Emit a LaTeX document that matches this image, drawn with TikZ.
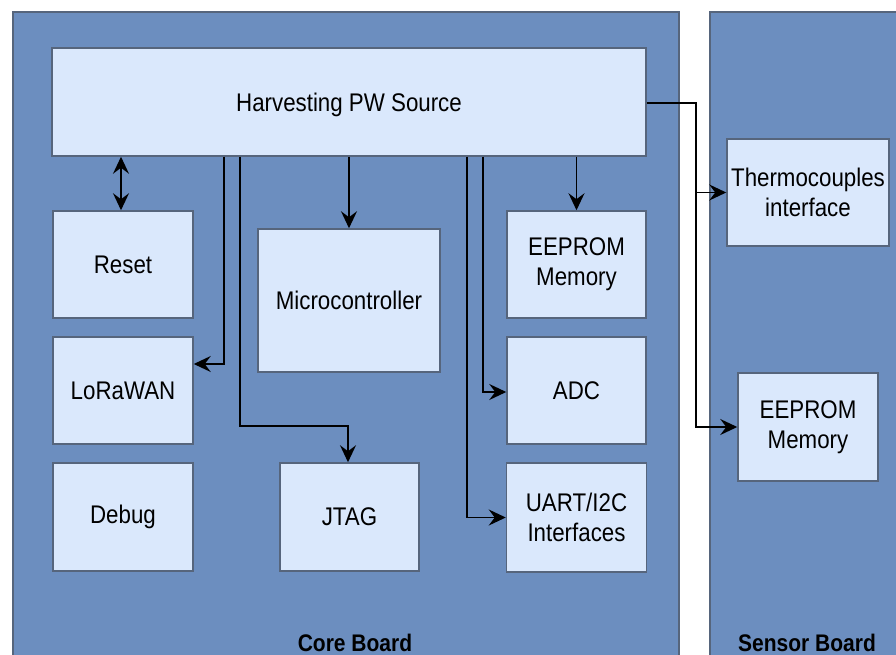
\documentclass[tikz,border=0pt]{standalone}
\usepackage{fontspec}
\setmainfont[FakeStretch=0.875]{Liberation Sans}
\usetikzlibrary{arrows.meta}
\definecolor{boardfill}{HTML}{6C8EBF}
\definecolor{boxfill}{HTML}{DAE8FC}
\definecolor{edgegray}{HTML}{56657C}

\begin{document}
\begin{tikzpicture}[x=1pt,y=-1pt,
  board/.style={draw=edgegray, fill=boardfill, line width=1.5pt},
  block/.style={draw=edgegray, fill=boxfill, line width=1.5pt, align=center,
    inner sep=0pt, font=\fontsize{25.5}{30}\selectfont},
  boardlabel/.style={anchor=base, inner sep=0pt, font=\fontsize{24}{26}\selectfont\bfseries},
  link/.style={line width=1.6pt, black, arrows={-Stealth[length=17pt,width=16pt,inset=6pt]}},
  twoway/.style={line width=1.6pt, black, arrows={Stealth[length=17pt,width=16pt,inset=6pt]-Stealth[length=17pt,width=16pt,inset=6pt]}}]

\useasboundingbox (0,0) rectangle (896,655);
\clip (0,0) rectangle (896,655);

% boards
\draw[board] (13,12) rectangle (679,720);
\draw[board] (710,12) rectangle (960,720);
\node[boardlabel] (corelabel) at (355,651) {Core Board};
\node[boardlabel] (sensorlabel) at (807,651) {Sensor Board};

% core board blocks
\node[block, minimum width=594pt, minimum height=108pt, text depth=0pt] (harvest) at (349,102) {Harvesting PW Source};
\node[block, minimum width=140pt, minimum height=107pt] (reset) at (123,264.5) {Reset};
\node[block, minimum width=140pt, minimum height=107pt] (lora) at (123,390.5) {LoRaWAN};
\node[block, minimum width=140pt, minimum height=108pt] (debug) at (123,517) {Debug};
\node[block, minimum width=182pt, minimum height=143pt] (mcu) at (349,300.5) {Microcontroller};
\node[block, minimum width=139pt, minimum height=108pt] (jtag) at (349.5,517) {JTAG};
\node[block, minimum width=139pt, minimum height=107pt] (eeprom) at (576.5,264.5) {EEPROM\\Memory};
\node[block, minimum width=139pt, minimum height=107pt] (adc) at (576.5,390.5) {ADC};
\node[block, minimum width=140pt, minimum height=109pt] (uart) at (576.5,517.5) {UART/I2C\\Interfaces};

% sensor board blocks
\node[block, minimum width=162pt, minimum height=107pt] (thermo) at (808,192.5) {Thermocouples\\interface};
\node[block, minimum width=140pt, minimum height=108pt] (seeprom) at (808,427) {EEPROM\\Memory};

% connectors
\draw[twoway] ([xshift=-2pt]reset.north) -- ([xshift=-2pt]reset.north |- harvest.south);
\draw[link] ([xshift=173pt]harvest.south west) |- ([yshift=26.5pt]lora.east);
\draw[link] ([xshift=189pt]harvest.south west) |- ([xshift=-1.5pt,yshift=36pt]jtag.north) -- ([xshift=-1.5pt]jtag.north);
\draw[link] (mcu.north |- harvest.south) -- (mcu.north);
\draw[link] ([xshift=416pt]harvest.south west) |- (uart.west);
\draw[link] ([xshift=432pt]harvest.south west) |- ([yshift=-1.5pt]adc.west);
\draw[link] (eeprom.north |- harvest.south) -- (eeprom.north);
\draw[link] ([yshift=-1pt]harvest.east) -- ++(49,0) |- (thermo.west);
\draw[link] ([yshift=-1pt]harvest.east) -- ++(49,0) |- (seeprom.west);
\end{tikzpicture}
\end{document}
